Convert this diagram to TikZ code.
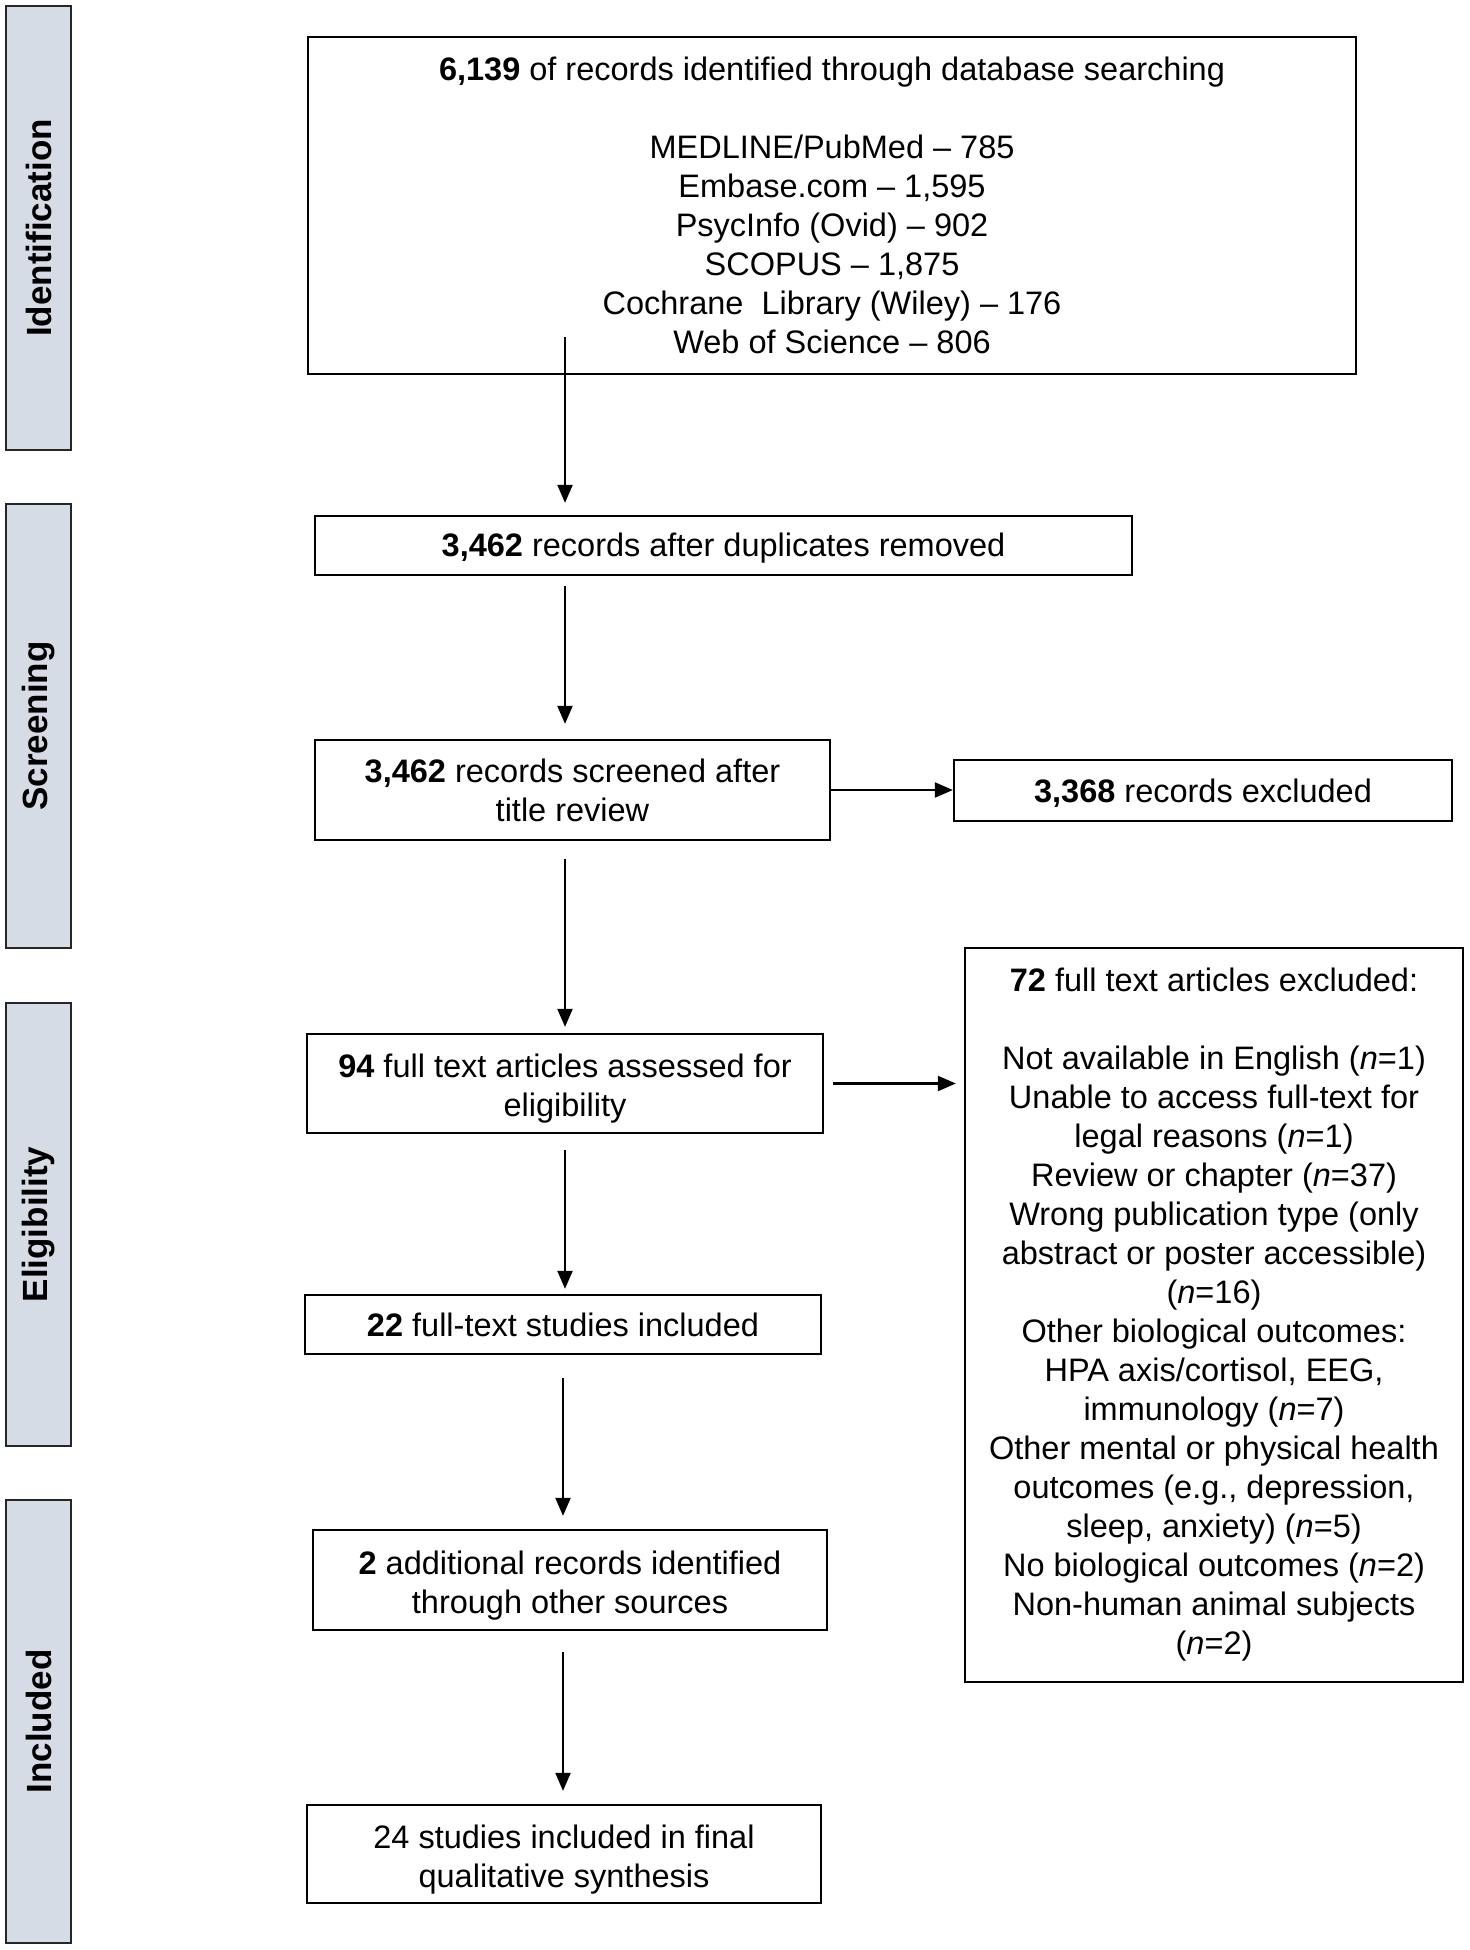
\documentclass[tikz,border=0pt]{standalone}
\usepackage{fontspec}
\setmainfont{Liberation Sans}
\usetikzlibrary{arrows.meta,calc}
\definecolor{barfill}{RGB}{214,220,229}
\begin{document}
\begin{tikzpicture}[x=1pt,y=-1pt,
  box/.style={draw=black, line width=2.3pt, inner sep=0pt, align=center, anchor=center,
    font=\fontsize{32.5}{39}\selectfont},
  lower/.style={execute at begin node={\rule{0pt}{#1}}},
  bar/.style={draw=black!85, fill=barfill, line width=2.2pt, inner sep=0pt, anchor=center,
    rotate=90, minimum height=65pt, font=\fontsize{35}{42}\selectfont\bfseries},
  arr/.style={line width=2.1pt, -{Triangle[length=18pt,width=15pt]}},
]
\useasboundingbox (0,0) rectangle (1469,1950);

% phase bars
\node[bar, minimum width=444pt] (pid) at (38.5,228) {Identification};
\node[bar, minimum width=444pt] (psc) at (38.5,726) {Screening};
\node[bar, minimum width=443pt] (pel) at (38.5,1224.5) {Eligibility};
\node[bar, minimum width=443pt] (pin) at (38.5,1721.5) {Included};

% boxes
\node[box, minimum width=1048pt, minimum height=337pt] (b1) at (832,205.5)
  {\textbf{6,139} of records identified through database searching\\[39pt]
   MEDLINE/PubMed – 785\\
   Embase.com – 1,595\\
   PsycInfo (Ovid) – 902\\
   SCOPUS – 1,875\\
   Cochrane\ \ Library (Wiley) – 176\\
   Web of Science – 806};
\node[box, lower=28.7pt, minimum width=817pt, minimum height=59pt] (b2) at (723.5,545.5)
  {\textbf{3,462} records after duplicates removed};
\node[box, minimum width=515pt, minimum height=100pt] (b3) at (572.5,790)
  {\textbf{3,462} records screened after\\ title review};
\node[box, lower=28.7pt, minimum width=498pt, minimum height=61pt] (bx) at (1203,790.5)
  {\textbf{3,368} records excluded};
\node[box, lower=72.7pt, minimum width=516pt, minimum height=99pt] (b4) at (565,1083.5)
  {\textbf{94} full text articles assessed for\\ eligibility};
\node[box, minimum width=498pt, minimum height=734pt] (b72) at (1214,1315)
  {\textbf{72} full text articles excluded:\\[39pt]
   Not available in English (\textit{n}=1)\\
   Unable to access full-text for\\
   legal reasons (\textit{n}=1)\\
   Review or chapter (\textit{n}=37)\\
   Wrong publication type (only\\
   abstract or poster accessible)\\
   (\textit{n}=16)\\
   Other biological outcomes:\\
   HPA axis/cortisol, EEG,\\
   immunology (\textit{n}=7)\\
   Other mental or physical health\\
   outcomes (e.g., depression,\\
   sleep, anxiety) (\textit{n}=5)\\
   No biological outcomes (\textit{n}=2)\\
   Non-human animal subjects\\
   (\textit{n}=2)};
\node[box, minimum width=516pt, minimum height=59pt] (b5) at (563,1324.5)
  {\textbf{22} full-text studies included};
\node[box, lower=74.7pt, minimum width=514pt, minimum height=100pt] (b6) at (570,1580)
  {\textbf{2} additional records identified\\ through other sources};
\node[box, lower=72.7pt, minimum width=514pt, minimum height=98pt] (b7) at (564,1854)
  {24 studies included in final\\ qualitative synthesis};

% connectors
\coordinate (cx) at (565,0);
\coordinate (cx2) at (563,0);
\coordinate (a1s) at (565,337);
\draw[arr, shorten >=12pt] (a1s) -- (a1s |- b2.north);
\draw[arr, shorten <=10pt, shorten >=15pt] (b2.south -| cx) -- (b3.north -| cx);
\draw[arr, shorten <=18pt, shorten >=6pt] (b3.south -| cx) -- (b4.north -| cx);
\draw[arr, shorten <=16pt, shorten >=5pt] (b4.south -| cx) -- (b5.north -| cx);
\draw[arr, shorten <=23pt, shorten >=13pt] (b5.south -| cx2) -- (b6.north -| cx2);
\draw[arr, shorten <=21pt, shorten >=13pt] (b6.south -| cx2) -- (b7.north -| cx2);
\draw[arr] (b3.east) -- (b3.east -| bx.west);
\draw[arr, shorten <=9pt, shorten >=8pt] (b4.east) -- (b4.east -| b72.west);
\end{tikzpicture}
\end{document}
